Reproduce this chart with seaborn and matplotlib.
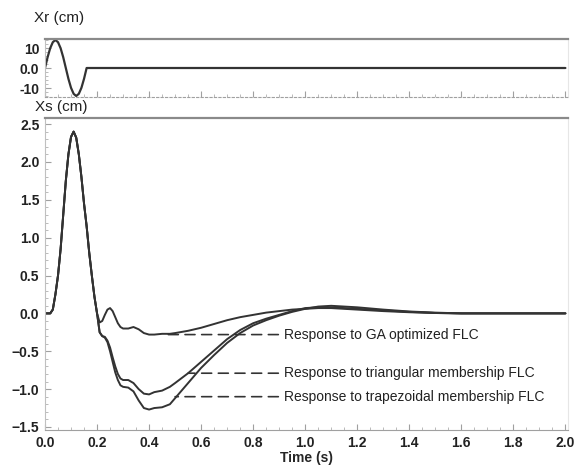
import matplotlib
matplotlib.use("Agg")
import matplotlib.pyplot as plt
from matplotlib.ticker import MultipleLocator
import seaborn as sns
import pandas as pd

# --- data ---
# road input Xr (cm)
t_r = [0.00, 0.01, 0.02, 0.03, 0.04, 0.05, 0.06, 0.07, 0.08, 0.09,
       0.10, 0.11, 0.12, 0.13, 0.14, 0.15, 0.16, 2.00]
xr = [0, 5.4, 9.9, 12.9, 14, 12.9, 9.9, 5.4, 0, -5.4,
      -9.9, -12.9, -14, -12.9, -9.9, -5.4, 0, 0]

# suspension response Xs (cm)
t_s = [0.00, 0.02, 0.03, 0.04, 0.05, 0.06, 0.07, 0.08, 0.09, 0.10,
       0.11, 0.12, 0.13, 0.14, 0.15, 0.16, 0.17, 0.18, 0.19, 0.20,
       0.21, 0.22, 0.23, 0.24, 0.25, 0.26, 0.27, 0.28, 0.29, 0.30,
       0.32, 0.34, 0.36, 0.38, 0.40, 0.42,
       0.45, 0.48, 0.50,
       0.55, 0.60, 0.65, 0.70, 0.75, 0.80, 0.85, 0.90, 0.95,
       1.00, 1.05, 1.10,
       1.20, 1.30, 1.40, 1.50, 1.60,
       2.00]
xs_rise = [0, 0, 0.05, 0.25, 0.5, 0.85, 1.3, 1.75, 2.1, 2.33,
           2.4, 2.32, 2.1, 1.8, 1.45, 1.15, 0.8, 0.5, 0.22, 0.0]
ga_tail = [-0.12, -0.1, -0.02, 0.05, 0.07, 0.03, -0.05, -0.13, -0.18, -0.2,
           -0.2, -0.18, -0.21, -0.26, -0.28, -0.28,
           -0.27, -0.27, -0.26,
           -0.23, -0.19, -0.14, -0.09, -0.05, -0.02, 0.01, 0.03, 0.05,
           0.06, 0.07, 0.07,
           0.05, 0.03, 0.015, 0.005, 0,
           0]
tri_tail = [-0.25, -0.3, -0.31, -0.36, -0.45, -0.58, -0.7, -0.8, -0.86, -0.88,
            -0.88, -0.92, -1.0, -1.06, -1.07, -1.04,
            -1.02, -0.97, -0.92,
            -0.79, -0.64, -0.49, -0.34, -0.22, -0.13, -0.07, -0.02, 0.03,
            0.07, 0.08, 0.08,
            0.06, 0.04, 0.02, 0.005, 0,
            0]
trap_tail = [-0.25, -0.3, -0.32, -0.38, -0.5, -0.64, -0.78, -0.88, -0.95, -0.97,
             -0.98, -1.03, -1.15, -1.25, -1.27, -1.25,
             -1.24, -1.2, -1.12,
             -0.92, -0.72, -0.55, -0.39, -0.26, -0.16, -0.09, -0.03, 0.02,
             0.06, 0.09, 0.1,
             0.08, 0.05, 0.025, 0.01, 0,
             0]

labels = ["Response to GA optimized FLC",
          "Response to triangular membership FLC",
          "Response to trapezoidal membership FLC"]
# where each dashed leader touches its curve (time, value)
leader_t = [0.47, 0.55, 0.50]
leader_v = [-0.28, -0.79, -1.10]

series = {
    "ga": xs_rise + ga_tail,
    "tri": xs_rise + tri_tail,
    "trap": xs_rise + trap_tail,
}

sns.set_style("white")
plt.rcParams["font.family"] = ["Liberation Sans", "DejaVu Sans"]
plt.rcParams["font.size"] = 10

line_col = "#333333"
spine_col = "#a0a0a0"

fig = plt.figure(figsize=(5.76, 4.66), dpi=100)
ax_r = fig.add_axes([45 / 576, 369 / 466, 523 / 576, 58 / 466])
ax_s = fig.add_axes([45 / 576, 36 / 466, 523 / 576, 312 / 466])

# --- top panel: Xr ---
df_r = pd.DataFrame({"t": t_r, "xr": xr})
sns.lineplot(data=df_r, x="t", y="xr", ax=ax_r, color=line_col, lw=1.6)
ax_r.set_xlim(0, 2.01)
ax_r.set_ylim(-14.5, 14.5)
ax_r.yaxis.set_major_locator(MultipleLocator(10))
ax_r.yaxis.set_minor_locator(MultipleLocator(2))
ax_r.set_yticklabels([])
ax_r.set_yticks([-10, 0, 10])
ax_r.set_yticklabels(["-10", "0.0", "10"])
ax_r.xaxis.set_major_locator(MultipleLocator(0.2))
ax_r.xaxis.set_minor_locator(MultipleLocator(0.05))
ax_r.tick_params(axis="x", which="both", labelbottom=False)
ax_r.set_xlabel("")
ax_r.set_ylabel("")
ax_r.spines["bottom"].set_linestyle((0, (2, 2)))
fig.text(34 / 576, 1 - 18 / 466, "Xr (cm)", fontsize=11, va="center", ha="left", color="#222222")

# --- bottom panel: Xs ---
for key in ["ga", "tri", "trap"]:
    df = pd.DataFrame({"t": t_s, "xs": series[key]})
    sns.lineplot(data=df, x="t", y="xs", ax=ax_s, color=line_col, lw=1.4)

for lab, lt, lv in zip(labels, leader_t, leader_v):
    ax_s.annotate(lab, xy=(lt, lv), xytext=(0.92, lv), va="center", ha="left",
                  fontsize=10, color="#222222",
                  arrowprops=dict(arrowstyle="-", linestyle=(0, (6, 4)), color=line_col,
                                  lw=1.2, shrinkA=2, shrinkB=0))

ax_s.set_xlim(0, 2.01)
ax_s.set_ylim(-1.54, 2.58)
ax_s.xaxis.set_major_locator(MultipleLocator(0.2))
ax_s.xaxis.set_minor_locator(MultipleLocator(0.05))
ax_s.yaxis.set_major_locator(MultipleLocator(0.5))
ax_s.yaxis.set_minor_locator(MultipleLocator(0.1))
ax_s.set_ylabel("")
ax_s.set_xlabel("Time (s)", fontsize=10, fontweight="bold", labelpad=1)
fig.text(35 / 576, 1 - 107 / 466, "Xs (cm)", fontsize=11, va="center", ha="left", color="#222222")

for ax in [ax_r, ax_s]:
    for side in ["top", "bottom", "left", "right"]:
        ax.spines[side].set_color(spine_col)
    ax.spines["top"].set_linewidth(1.6)
    ax.spines["top"].set_color("#8a8a8a")
    ax.spines["right"].set_color("#e6e6e6")
    ax.spines["left"].set_color("#c0c0c0")
    ax.tick_params(which="major", direction="in", length=4, color="#a0a0a0",
                   labelsize=10, labelcolor="#222222", pad=4)
    ax.tick_params(which="minor", direction="in", length=2, color="#b0b0b0")
    ax.tick_params(which="both", left=True, bottom=True)
    for lab in ax.get_yticklabels() + ax.get_xticklabels():
        lab.set_fontweight("bold")

fig.savefig("out.png", dpi=100)
